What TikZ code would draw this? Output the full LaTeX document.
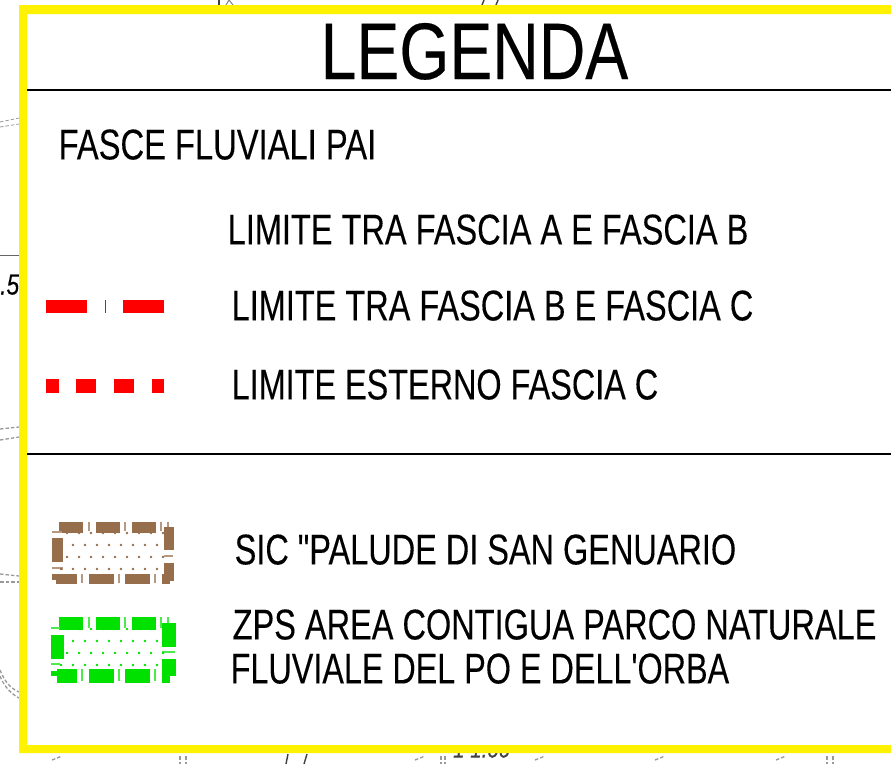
\documentclass[tikz,border=0pt]{standalone}
\usepackage{fontspec}
\newfontfamily\plainfont[FakeBold=0.25]{Liberation Sans}
\usepackage{graphicx}
\newcommand{\fitlabel}[3]{\resizebox{#1pt}{#2pt}{\plainfont #3}}
\definecolor{brownc}{RGB}{150,110,75}
\definecolor{greenc}{RGB}{0,225,0}
\tikzset{
  x=1pt,y=-1pt,
  legendtext/.style={anchor=south west,inner sep=0pt,text=black},
  framefill/.style={fill=yellow,draw=none},
  rulerline/.style={draw=black,line width=1.6pt},
  redbar/.style={fill=red,draw=none},
  map/.style={draw=black!40,line width=1.3pt,dash pattern=on 3.5pt off 2pt},
  mapdark/.style={draw=black!75,line width=1.4pt},
  brownbar/.style={fill=brownc,draw=brownc,line width=1pt},
  browntick/.style={draw=brownc!70,line width=1.1pt},
  greenbar/.style={fill=greenc,draw=greenc,line width=1pt},
  greentick/.style={draw=greenc!70,line width=1.1pt},
}
\begin{document}
\begin{tikzpicture}
\useasboundingbox (0,0) rectangle (891,764);
\fill[white] (0,0) rectangle (891,764);
% map fragments behind the legend
\draw[map,line width=.8pt] (0,122) -- (19,118);
\draw[map,line width=.8pt] (0,127) -- (19,124);
\draw[map] (0,429) -- (19,427);
\draw[map] (0,440) -- (19,437);
\draw[map] (0,574) -- (19,576);
\draw[map] (0,582) -- (19,582);
\draw[map] (0,670) .. controls (5,682) and (10,688) .. (19,692);
\draw[map] (0,676) .. controls (4,686) and (10,693) .. (19,698);
\draw[draw=black!60,line width=1pt] (0,255) -- (19,255);
\node[legendtext] (frag5) at (0,295) {\fitlabel{19}{20}{\itshape .5}};
\draw[mapdark] (219,0) -- (219,5);
\draw[draw=black!50,line width=1pt] (226,5) -- (229,0) -- (233,5);
\draw[mapdark] (482,5) -- (484,0);
\draw[mapdark] (496,5) -- (498,0);
\draw[map] (52,760) -- (62,756);
\draw[map] (180,756) -- (180,764);
\draw[map] (186,756) -- (186,764);
\draw[mapdark] (286,764) -- (288,754);
\draw[mapdark] (304,764) -- (307,754);
\draw[map] (415,760) -- (425,756);
\draw[map] (441,756) -- (441,764);
\draw[map] (445,756) -- (445,764);
\node[legendtext,text=black!75] (frag1) at (453,758) {\fitlabel{57}{18}{\itshape 1 1.00}};
\draw[map] (535,760) -- (545,756);
\draw[map] (655,760) -- (665,756);
\draw[map] (776,760) -- (786,756);
\draw[map] (827,756) -- (827,764);
\draw[map] (833,756) -- (833,764);
% frame interior and yellow frame
\fill[white] (19,5) rectangle (891,745);
\fill[framefill] (19,5) -- (891,5) -- (891,14) -- (27,14) -- (27,745) -- (891,745) -- (891,753) -- (19,753) -- cycle;
\draw[rulerline] (27,90) -- (891,90);
\draw[rulerline] (27,454) -- (891,454);
% texts
\node[legendtext] (title) at (320.5,80) {\fitlabel{307.5}{56}{LEGENDA}};
\node[legendtext] (fasce) at (58.5,160) {\fitlabel{317.5}{30}{FASCE FLUVIALI PAI}};
\node[legendtext] (ab) at (227.5,245) {\fitlabel{520.5}{30}{LIMITE TRA FASCIA A E FASCIA B}};
\node[legendtext] (bc) at (231.5,321) {\fitlabel{521.5}{30}{LIMITE TRA FASCIA B E FASCIA C}};
\node[legendtext] (est) at (231.5,400) {\fitlabel{426.5}{30}{LIMITE ESTERNO FASCIA C}};
\node[legendtext] (sic) at (234.5,565) {\fitlabel{501.5}{30}{SIC "PALUDE DI SAN GENUARIO}};
\node[legendtext] (zps) at (232.5,640) {\fitlabel{643.5}{30}{ZPS AREA CONTIGUA PARCO NATURALE}};
\node[legendtext] (fluv) at (230.5,684) {\fitlabel{498.5}{30}{FLUVIALE DEL PO E DELL'ORBA}};
% red samples
\fill[redbar] (46,300) rectangle (87,313);
\fill[redbar] (104.5,300) rectangle (105.7,313);
\fill[redbar] (123,300) rectangle (164,313);
\fill[redbar] (46,379) rectangle (58.5,393);
\fill[redbar] (76,379) rectangle (96,393);
\fill[redbar] (114,379) rectangle (134,393);
\fill[redbar] (152,379) rectangle (164,393);
% brown sample
\foreach \a/\b in {59/82,96/119,132/155} \filldraw[brownbar] (\a,522) rectangle (\b,532);
\foreach \a/\b in {56/76,89/113,125/149} \filldraw[brownbar] (\a,574) rectangle (\b,583);
\filldraw[brownbar] (52,538) rectangle (62,561);
\filldraw[brownbar] (164,527) rectangle (173,549);
\filldraw[brownbar] (164,563) rectangle (173,580);
\filldraw[brownbar] (162,574) rectangle (169,583);
\filldraw[brownbar] (52,574) rectangle (57,579);
\foreach \x in {89,125,161} \draw[browntick] (\x,522) -- (\x,531);
\foreach \x in {82,119,155} \draw[browntick] (\x,574) -- (\x,583);
\draw[browntick] (168,522) -- (168,527);
\draw[browntick] (52,532) -- (62,532);
\draw[browntick] (52,568) -- (62,568) -- (62,570);
\draw[browntick] (164,556) -- (173,556);
\foreach \x in {67,79,...,163} \fill[brownc] (\x,533) circle (1.3pt);
\foreach \x in {73,85,...,157} \fill[brownc] (\x,545) circle (1.3pt);
\foreach \x in {67,79,...,163} \fill[brownc] (\x,557) circle (1.3pt);
\foreach \x in {61,73,...,157} \fill[brownc] (\x,569) circle (1.3pt);
% green sample
\foreach \a/\b in {59/82,96/119,132/155} \filldraw[greenbar] (\a,617) rectangle (\b,629);
\foreach \a/\b in {57/76,89/113,125/149} \filldraw[greenbar] (\a,669) rectangle (\b,682);
\filldraw[greenbar] (51,635) rectangle (63,658);
\filldraw[greenbar] (162,623) rectangle (175,646);
\filldraw[greenbar] (162,659) rectangle (175,675);
\filldraw[greenbar] (162,675) rectangle (169,682);
\filldraw[greenbar] (51,671) rectangle (57,675);
\foreach \x in {89,125,161} \draw[greentick] (\x,617) -- (\x,628);
\foreach \x in {82,119,155} \draw[greentick] (\x,669) -- (\x,681);
\draw[greentick] (168,617) -- (168,623);
\draw[greentick] (51,628) -- (60,628);
\draw[greentick] (51,664) -- (60,664);
\draw[greentick] (162,652) -- (175,652);
\foreach \x in {67,79,...,163} \fill[greenc] (\x,629) circle (1.3pt);
\foreach \x in {73,85,...,157} \fill[greenc] (\x,641) circle (1.3pt);
\foreach \x in {67,79,...,163} \fill[greenc] (\x,653) circle (1.3pt);
\foreach \x in {61,73,...,157} \fill[greenc] (\x,665) circle (1.3pt);
\end{tikzpicture}
\end{document}
